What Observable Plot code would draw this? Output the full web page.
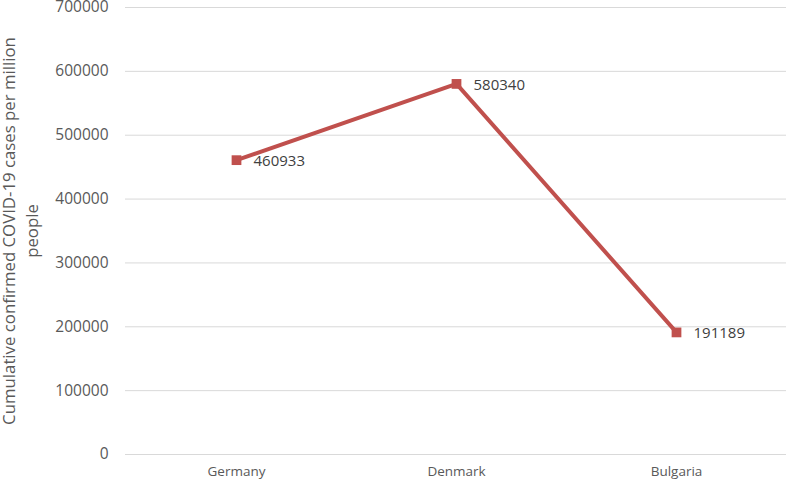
<!DOCTYPE html>
<html><head><meta charset="utf-8">
<script src="https://cdn.jsdelivr.net/npm/d3@7"></script>
<script src="https://cdn.jsdelivr.net/npm/@observablehq/plot@0.6"></script>
<style>
body{margin:0;background:#fff;}
svg{font-family:"Open Sans",sans-serif;overflow:visible;}
</style></head><body><div id="chart"></div>
<script>
const countries = ["Germany", "Denmark", "Bulgaria"];
const cases = [460933, 580340, 191189];
const yTicks = [0, 100000, 200000, 300000, 400000, 500000, 600000, 700000];
const yLabel = "Cumulative confirmed COVID-19 cases per million\npeople";

const data = countries.map((c, i) => ({country: c, value: cases[i]}));
const color = "#C0504D";

const chart = Plot.plot({
  width: 786,
  height: 486,
  marginLeft: 125,
  marginRight: 0,
  marginTop: 7,
  marginBottom: 32,
  style: {fontFamily: "'Open Sans', sans-serif", background: "#fff", overflow: "visible"},
  x: {type: "point", domain: countries, padding: 0.5},
  y: {domain: [0, 700000]},
  marks: [
    Plot.gridY(yTicks, {stroke: "#d9d9d9", strokeOpacity: 1, strokeWidth: 1}),
    Plot.axisY(yTicks, {tickSize: 0, tickPadding: 17, label: null, fontSize: 15.5, fill: "#595959", tickFormat: d => String(d)}),
    Plot.axisX({tickSize: 0, tickPadding: 12, label: null, fontSize: 13.5, fill: "#595959"}),
    Plot.text([yLabel], {frameAnchor: "left", textAnchor: "middle", rotate: -90, dx: -106, fontSize: 16.8, lineHeight: 1.35, fill: "#595959"}),
    Plot.line(data, {x: "country", y: "value", stroke: color, strokeWidth: 4}),
    Plot.dot(data, {x: "country", y: "value", symbol: "square", r: 5.5, fill: color, stroke: "none"}),
    Plot.text(data, {x: "country", y: "value", text: d => String(d.value), textAnchor: "start", dx: 17, dy: 1, fontSize: 15, fill: "#404040"})
  ]
});
document.getElementById("chart").appendChild(chart);
</script></body></html>
